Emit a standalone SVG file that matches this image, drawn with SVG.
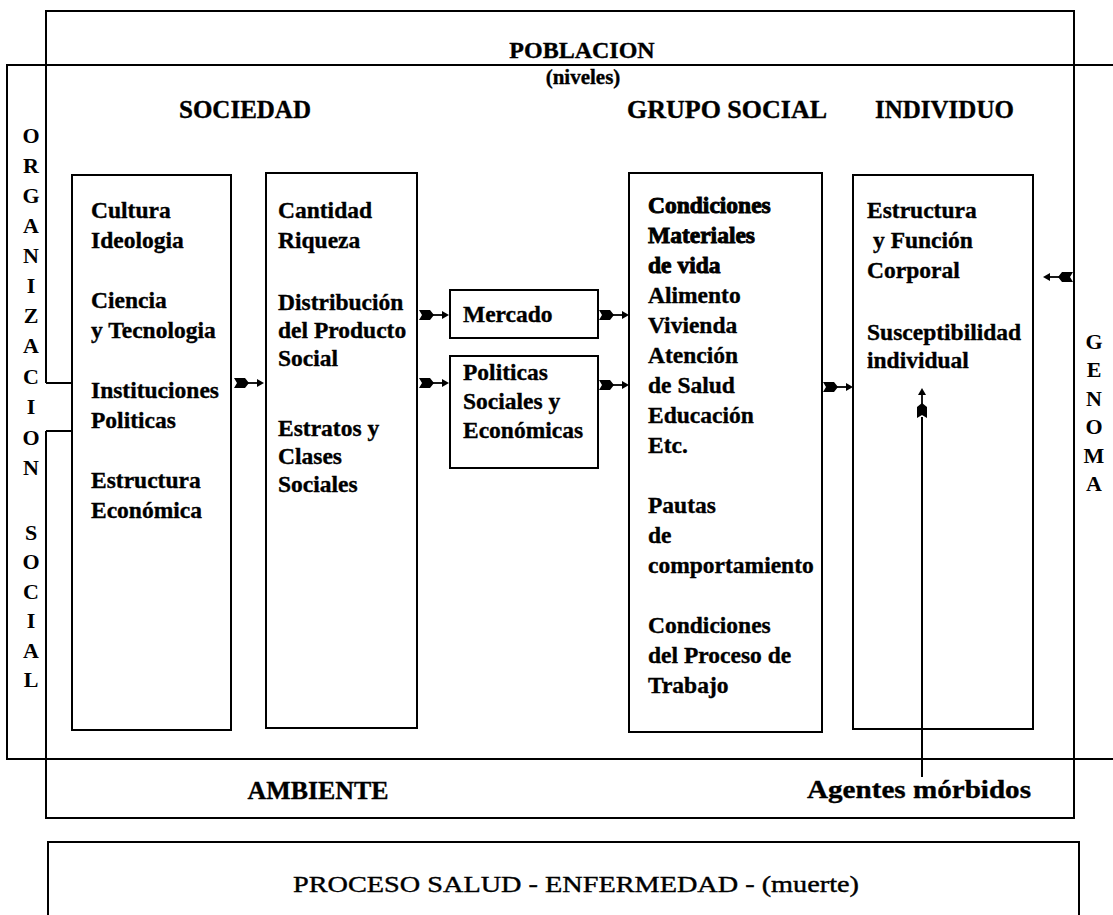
<svg xmlns="http://www.w3.org/2000/svg" xmlns:xlink="http://www.w3.org/1999/xlink" width="1113" height="915" viewBox="0 0 1113 915">
<style>
.bg{fill:#fff}
.frame{fill:none;stroke:#000;stroke-width:2}
.box{fill:#fff;stroke:#000;stroke-width:2}
.t{font-family:"Liberation Serif","DejaVu Serif",serif;font-weight:bold;font-size:23.5px;fill:#000;stroke:#000;stroke-width:0.35}
.h{font-family:"Liberation Serif","DejaVu Serif",serif;font-weight:bold;font-size:25px;fill:#000;stroke:#000;stroke-width:0.35}
.v{font-family:"Liberation Serif","DejaVu Serif",serif;font-weight:bold;font-size:22px;fill:#000;text-anchor:middle}
.heavy{stroke:#000;stroke-width:0.9}
.p{font-family:"Liberation Serif","DejaVu Serif",serif;font-weight:normal;font-size:24px;fill:#000;stroke:#000;stroke-width:0.4}
.ln{fill:none;stroke:#000;stroke-width:2}
</style>
<defs>
<g id="arw">
<path d="M0,-5 L11,-5 L15,0 L11,5 L0,5 L3,0 Z" fill="#000"/>
<path d="M14,0 L25,0" stroke="#000" stroke-width="1.8" fill="none"/>
<path d="M23,-4 L30,0 L23,4 Z" fill="#000"/>
</g>
</defs>
<rect class="bg" x="0" y="0" width="1113" height="915"/>

<g id="poblacion-ambiente">
<path class="frame" d="M46,383 L46,11 L1074,11 L1074,818 L46,818 L46,431"/>
<text class="h" x="582" y="58" text-anchor="middle" style="font-size:24px">POBLACION</text>
<text class="h" x="583" y="84" text-anchor="middle" style="font-size:21px">(niveles)</text>
<text class="h" x="318" y="799" text-anchor="middle" textLength="141" lengthAdjust="spacingAndGlyphs">AMBIENTE</text>
</g>

<g id="organizacion-social">
<path class="frame" d="M1113,65 L7,65 L7,759 L1113,759"/>
<text class="v" x="31" y="143">O</text>
<text class="v" x="31" y="173">R</text>
<text class="v" x="31" y="203">G</text>
<text class="v" x="31" y="233">A</text>
<text class="v" x="31" y="263">N</text>
<text class="v" x="31" y="293">I</text>
<text class="v" x="31" y="323">Z</text>
<text class="v" x="31" y="353">A</text>
<text class="v" x="31" y="384">C</text>
<text class="v" x="31" y="414">I</text>
<text class="v" x="31" y="445">O</text>
<text class="v" x="31" y="475">N</text>
<text class="v" x="31" y="540">S</text>
<text class="v" x="31" y="569">O</text>
<text class="v" x="31" y="599">C</text>
<text class="v" x="31" y="628">I</text>
<text class="v" x="31" y="658">A</text>
<text class="v" x="31" y="687">L</text>
</g>

<g id="genoma">
<text class="v" x="1094" y="349">G</text>
<text class="v" x="1094" y="377">E</text>
<text class="v" x="1094" y="406">N</text>
<text class="v" x="1094" y="434">O</text>
<text class="v" x="1094" y="463">M</text>
<text class="v" x="1094" y="491">A</text>
</g>

<g id="headers">
<text class="h" x="179" y="118">SOCIEDAD</text>
<text class="h" x="627" y="118" textLength="200" lengthAdjust="spacingAndGlyphs">GRUPO SOCIAL</text>
<text class="h" x="875" y="118">INDIVIDUO</text>
</g>

<g id="cultura">
<path class="ln" d="M46,383 L72,383 M46,431 L72,431"/>
<rect class="box" x="72" y="175" width="159" height="555"/>
<text class="t" x="91" y="218">Cultura</text>
<text class="t" x="91" y="248">Ideologia</text>
<text class="t" x="91" y="308">Ciencia</text>
<text class="t" x="91" y="338">y Tecnologia</text>
<text class="t" x="91" y="398">Instituciones</text>
<text class="t" x="91" y="428">Politicas</text>
<text class="t" x="91" y="488">Estructura</text>
<text class="t" x="91" y="518">Económica</text>
</g>

<g id="riqueza">
<rect class="box" x="266" y="173" width="151" height="555"/>
<text class="t" x="278" y="218">Cantidad</text>
<text class="t" x="278" y="248">Riqueza</text>
<text class="t" x="278" y="310">Distribución</text>
<text class="t" x="278" y="338">del Producto</text>
<text class="t" x="278" y="366">Social</text>
<text class="t" x="278" y="436">Estratos y</text>
<text class="t" x="278" y="464">Clases</text>
<text class="t" x="278" y="492">Sociales</text>
</g>

<g id="mercado">
<rect class="box" x="450" y="290" width="148" height="48"/>
<text class="t" x="463" y="322">Mercado</text>
</g>

<g id="politicas">
<rect class="box" x="450" y="356" width="148" height="112"/>
<text class="t" x="463" y="380">Politicas</text>
<text class="t" x="463" y="409">Sociales y</text>
<text class="t" x="463" y="438">Económicas</text>
</g>

<g id="grupo-social">
<rect class="box" x="629" y="173" width="193" height="559"/>
<text class="t heavy" x="648" y="213">Condiciones</text>
<text class="t heavy" x="648" y="243">Materiales</text>
<text class="t heavy" x="648" y="273">de vida</text>
<text class="t" x="648" y="303">Alimento</text>
<text class="t" x="648" y="333">Vivienda</text>
<text class="t" x="648" y="363">Atención</text>
<text class="t" x="648" y="393">de Salud</text>
<text class="t" x="648" y="423">Educación</text>
<text class="t" x="648" y="453">Etc.</text>
<text class="t" x="648" y="513">Pautas</text>
<text class="t" x="648" y="543">de</text>
<text class="t" x="648" y="573">comportamiento</text>
<text class="t" x="648" y="633">Condiciones</text>
<text class="t" x="648" y="663">del Proceso de</text>
<text class="t" x="648" y="693">Trabajo</text>
</g>

<g id="individuo">
<rect class="box" x="853" y="175" width="180" height="554"/>
<text class="t" x="867" y="218">Estructura</text>
<text class="t" x="873" y="248">y Función</text>
<text class="t" x="867" y="278">Corporal</text>
<text class="t" x="867" y="340">Susceptibilidad</text>
<text class="t" x="867" y="368">individual</text>
</g>

<g id="agentes">
<text class="h" x="807" y="798" textLength="224" lengthAdjust="spacingAndGlyphs" style="font-size:26px">Agentes mórbidos</text>
</g>

<g id="proceso">
<rect class="box" x="48" y="842" width="1031" height="90"/>
<text class="p" x="293" y="892" textLength="566" lengthAdjust="spacingAndGlyphs">PROCESO SALUD - ENFERMEDAD - (muerte)</text>
</g>

<g id="connectors">
<use xlink:href="#arw" transform="translate(234,383)"/>
<use xlink:href="#arw" transform="translate(419,315)"/>
<use xlink:href="#arw" transform="translate(419,383)"/>
<use xlink:href="#arw" transform="translate(599,315)"/>
<use xlink:href="#arw" transform="translate(599,385)"/>
<use xlink:href="#arw" transform="translate(823,387)"/>
<use xlink:href="#arw" transform="translate(1073,277) rotate(180)"/>
<path class="ln" d="M922,777 L922,417"/>
<use xlink:href="#arw" transform="translate(922,418) rotate(-90)"/>
</g>
</svg>
